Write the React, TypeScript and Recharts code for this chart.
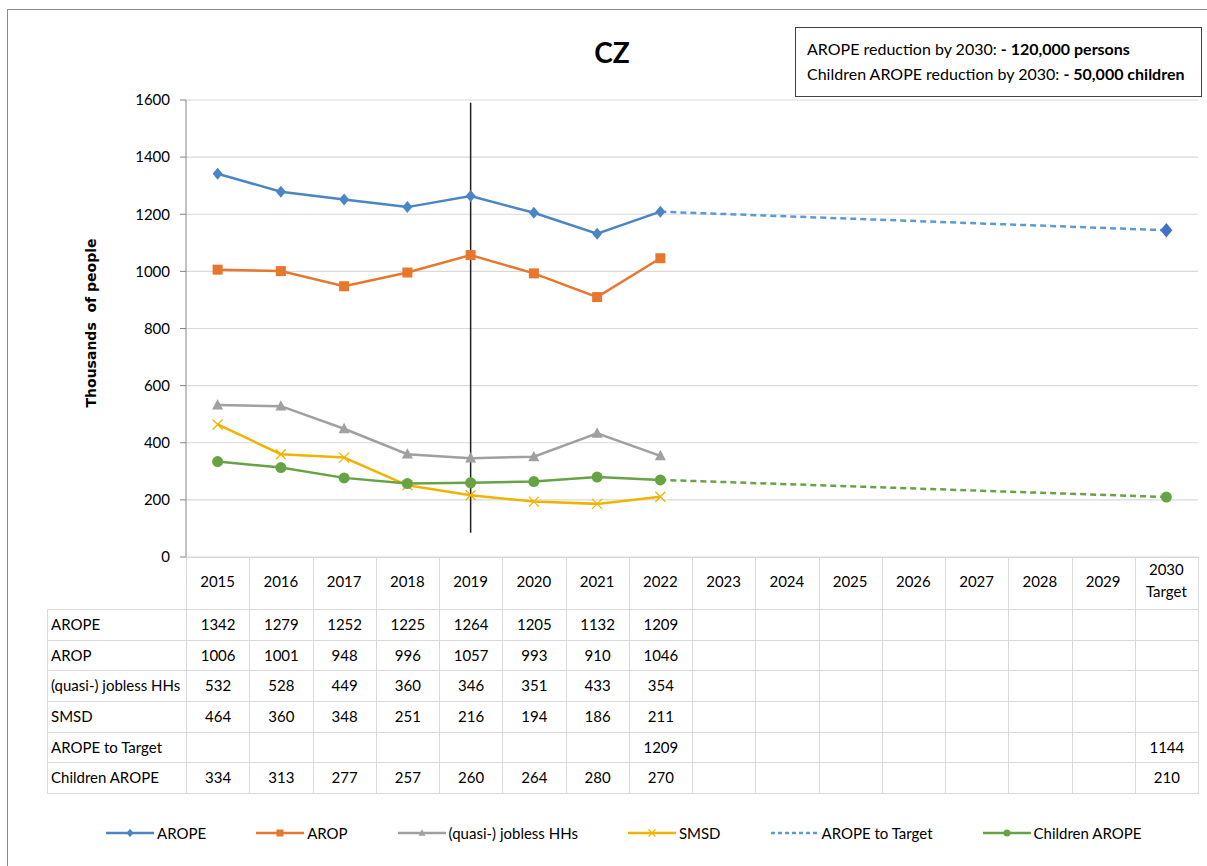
import React from 'react';
import { LineChart, Line, XAxis, YAxis, CartesianGrid, ReferenceLine } from 'recharts';

const categories = ['2015', '2016', '2017', '2018', '2019', '2020', '2021', '2022', '2023', '2024', '2025', '2026', '2027', '2028', '2029', '2030'];
const arope = [1342, 1279, 1252, 1225, 1264, 1205, 1132, 1209, null, null, null, null, null, null, null, null];
const arop = [1006, 1001, 948, 996, 1057, 993, 910, 1046, null, null, null, null, null, null, null, null];
const jobless = [532, 528, 449, 360, 346, 351, 433, 354, null, null, null, null, null, null, null, null];
const smsd = [464, 360, 348, 251, 216, 194, 186, 211, null, null, null, null, null, null, null, null];
const aropeTarget = [null, null, null, null, null, null, null, 1209, null, null, null, null, null, null, null, 1144];
const children = [334, 313, 277, 257, 260, 264, 280, 270, null, null, null, null, null, null, null, 210];
const yTicks = [0, 200, 400, 600, 800, 1000, 1200, 1400, 1600];

// the green dashed part only joins the last real year to the target
const childrenTarget = children.map((v, i) => (i === 7 || i === 15 ? v : null));

const data = categories.map((year, i) => ({
  year,
  arope: arope[i],
  arop: arop[i],
  jobless: jobless[i],
  smsd: smsd[i],
  aropeTarget: aropeTarget[i],
  children: children[i],
  childrenTarget: childrenTarget[i],
}));

const COLORS = {
  arope: '#4a86c5',
  arop: '#e8772e',
  jobless: '#a0a0a0',
  smsd: '#f0b400',
  target: '#5b9bd5',
  targetMark: '#4472c4',
  children: '#66a443',
};

const FONT = 'Lato, "Liberation Sans", sans-serif';

const tableRows = [
  { label: 'AROPE', values: arope },
  { label: 'AROP', values: arop },
  { label: '(quasi-) jobless HHs', values: jobless },
  { label: 'SMSD', values: smsd },
  { label: 'AROPE to Target', values: aropeTarget },
  { label: 'Children AROPE', values: children },
];

type Marker = 'diamond' | 'square' | 'triangle' | 'x' | 'circle' | 'none';

function markerShape(kind: Marker, cx: number, cy: number, s: number, color: string) {
  switch (kind) {
    case 'diamond':
      return <path d={`M${cx} ${cy - s * 1.2}L${cx + s} ${cy}L${cx} ${cy + s * 1.2}L${cx - s} ${cy}Z`} fill={color} />;
    case 'square':
      return <rect x={cx - s} y={cy - s} width={s * 2} height={s * 2} fill={color} />;
    case 'triangle':
      return <path d={`M${cx} ${cy - s * 1.1}L${cx + s} ${cy + s * 0.8}L${cx - s} ${cy + s * 0.8}Z`} fill={color} />;
    case 'x':
      return (
        <path
          d={`M${cx - s} ${cy - s}L${cx + s} ${cy + s}M${cx + s} ${cy - s}L${cx - s} ${cy + s}`}
          stroke={color}
          strokeWidth={1.3}
          fill="none"
        />
      );
    case 'circle':
      return <circle cx={cx} cy={cy} r={s} fill={color} />;
    default:
      return null;
  }
}

const makeDot = (kind: Marker, color: string, size: number, onlyIndex?: number) => (props: any) => {
  const { cx, cy, index, value } = props;
  if (cx == null || cy == null || value == null) return <g key={index} />;
  if (onlyIndex !== undefined && index !== onlyIndex) return <g key={index} />;
  return <g key={index}>{markerShape(kind, cx, cy, size, color)}</g>;
};

const YearTick = ({ x, y, payload }: any) => {
  const label = payload.value;
  if (label === '2030') {
    return (
      <text x={x} y={y} textAnchor="middle" fontFamily={FONT} fontSize={15} fill="#000">
        <tspan x={x} dy={18}>2030</tspan>
        <tspan x={x} dy={22}>Target</tspan>
      </text>
    );
  }
  return (
    <text x={x} y={y + 30} textAnchor="middle" fontFamily={FONT} fontSize={15} fill="#000">
      {label}
    </text>
  );
};

const legendItems: { name: string; color: string; marker: Marker; dashed?: boolean }[] = [
  { name: 'AROPE', color: COLORS.arope, marker: 'diamond' },
  { name: 'AROP', color: COLORS.arop, marker: 'square' },
  { name: '(quasi-) jobless HHs', color: COLORS.jobless, marker: 'triangle' },
  { name: 'SMSD', color: COLORS.smsd, marker: 'x' },
  { name: 'AROPE to Target', color: COLORS.target, marker: 'none', dashed: true },
  { name: 'Children AROPE', color: COLORS.children, marker: 'circle' },
];

const cellBorder = '1px solid #d9d9d9';

export default function App() {
  return (
    <div
      style={{
        position: 'absolute',
        left: 0,
        top: 0,
        width: 1207,
        height: 866,
        overflow: 'hidden',
        background: '#fff',
        fontFamily: FONT,
      }}
    >
      <div
        style={{
          position: 'absolute',
          left: 7,
          top: 9,
          width: 1220,
          height: 880,
          border: '1px solid #8c8c8c',
        }}
      />

      <div
        style={{
          position: 'absolute',
          left: 0,
          width: 1224,
          top: 36,
          textAlign: 'center',
          fontSize: 28,
          fontWeight: 700,
          lineHeight: '32px',
        }}
      >
        CZ
      </div>

      <div
        style={{
          position: 'absolute',
          left: 795,
          top: 27,
          width: 407,
          height: 70,
          border: '1px solid #404040',
          fontSize: 16,
          lineHeight: '25px',
          padding: '8px 0 0 11px',
          boxSizing: 'border-box',
          color: '#000',
          whiteSpace: 'nowrap',
        }}
      >
        <div>
          AROPE reduction by 2030: <b>- 120,000 persons</b>
        </div>
        <div>
          Children AROPE reduction by 2030: <b>- 50,000 children</b>
        </div>
      </div>

      <div
        style={{
          position: 'absolute',
          left: 91,
          top: 323,
          transform: 'translate(-50%, -50%) rotate(-90deg)',
          fontFamily: '"DejaVu Sans", sans-serif',
          fontWeight: 700,
          fontSize: 14,
          whiteSpace: 'pre',
          color: '#000',
        }}
      >
        {'Thousands  of people'}
      </div>

      <table
        style={{
          position: 'absolute',
          left: 47,
          top: 557,
          width: 1151,
          borderCollapse: 'collapse',
          tableLayout: 'fixed',
          fontSize: 15,
          color: '#000',
        }}
      >
        <colgroup>
          <col style={{ width: 139 }} />
          {categories.map((c) => (
            <col key={c} style={{ width: 63.25 }} />
          ))}
        </colgroup>
        <tbody>
          <tr style={{ height: 52 }}>
            <td style={{ border: 'none', padding: 0 }} />
            {categories.map((c) => (
              <td key={c} style={{ border: cellBorder, padding: 0 }} />
            ))}
          </tr>
          {tableRows.map((row) => (
            <tr key={row.label} style={{ height: 30.7 }}>
              <td
                style={{
                  border: cellBorder,
                  padding: '0 0 2px 3px',
                  whiteSpace: 'nowrap',
                  overflow: 'hidden',
                  lineHeight: '18px',
                }}
              >
                {row.label}
              </td>
              {row.values.map((v, i) => (
                <td key={i} style={{ border: cellBorder, padding: '0 0 2px 0', textAlign: 'center', lineHeight: '18px' }}>
                  {v == null ? '' : v}
                </td>
              ))}
            </tr>
          ))}
        </tbody>
      </table>

      <div style={{ position: 'absolute', left: 0, top: 0 }}>
        <LineChart width={1207} height={866} data={data} margin={{ top: 100, right: 9, bottom: 257, left: 126 }}>
          <CartesianGrid vertical={false} stroke="#d9d9d9" strokeWidth={1.2} />
          <XAxis
            dataKey="year"
            scale="band"
            height={52}
            axisLine={false}
            tickLine={false}
            tickSize={0}
            tickMargin={0}
            interval={0}
            tick={<YearTick />}
          />
          <YAxis
            width={60}
            domain={[0, 1600]}
            ticks={yTicks}
            interval={0}
            axisLine={{ stroke: '#868686' }}
            tickLine={{ stroke: '#868686' }}
            tickMargin={10}
            tick={{ fontFamily: FONT, fontSize: 15, fill: '#000' }}
          />
          <ReferenceLine
            segment={[
              { x: '2019', y: 85 },
              { x: '2019', y: 1590 },
            ]}
            stroke="#222"
            strokeWidth={1.5}
          />
          <Line
            dataKey="aropeTarget"
            stroke={COLORS.target}
            strokeWidth={2.5}
            strokeDasharray="6 4"
            connectNulls
            dot={makeDot('diamond', COLORS.targetMark, 6, 15)}
            activeDot={false}
            isAnimationActive={false}
          />
          <Line
            dataKey="childrenTarget"
            stroke={COLORS.children}
            strokeWidth={2.5}
            strokeDasharray="6 4"
            connectNulls
            dot={false}
            activeDot={false}
            isAnimationActive={false}
          />
          <Line
            dataKey="arope"
            stroke={COLORS.arope}
            strokeWidth={2.5}
            dot={makeDot('diamond', COLORS.arope, 5)}
            activeDot={false}
            isAnimationActive={false}
          />
          <Line
            dataKey="arop"
            stroke={COLORS.arop}
            strokeWidth={2.5}
            dot={makeDot('square', COLORS.arop, 5)}
            activeDot={false}
            isAnimationActive={false}
          />
          <Line
            dataKey="jobless"
            stroke={COLORS.jobless}
            strokeWidth={2.5}
            dot={makeDot('triangle', COLORS.jobless, 5.5)}
            activeDot={false}
            isAnimationActive={false}
          />
          <Line
            dataKey="smsd"
            stroke={COLORS.smsd}
            strokeWidth={2.5}
            dot={makeDot('x', COLORS.smsd, 5)}
            activeDot={false}
            isAnimationActive={false}
          />
          <Line
            dataKey="children"
            stroke={COLORS.children}
            strokeWidth={2.5}
            dot={makeDot('circle', COLORS.children, 5.5)}
            activeDot={false}
            isAnimationActive={false}
          />
        </LineChart>
      </div>

      <div
        style={{
          position: 'absolute',
          left: 106,
          top: 823,
          display: 'flex',
          alignItems: 'center',
          gap: 50,
          fontSize: 15,
          color: '#000',
          whiteSpace: 'nowrap',
        }}
      >
        {legendItems.map((item) => (
          <div key={item.name} style={{ display: 'flex', alignItems: 'center', height: 20 }}>
            <svg width={48} height={12} style={{ marginRight: 3 }}>
              <line
                x1={0}
                y1={6}
                x2={48}
                y2={6}
                stroke={item.color}
                strokeWidth={2.5}
                strokeDasharray={item.dashed ? '4 3' : undefined}
              />
              {markerShape(item.marker, 24, 6, 3.5, item.color)}
            </svg>
            <span>{item.name}</span>
          </div>
        ))}
      </div>
    </div>
  );
}
